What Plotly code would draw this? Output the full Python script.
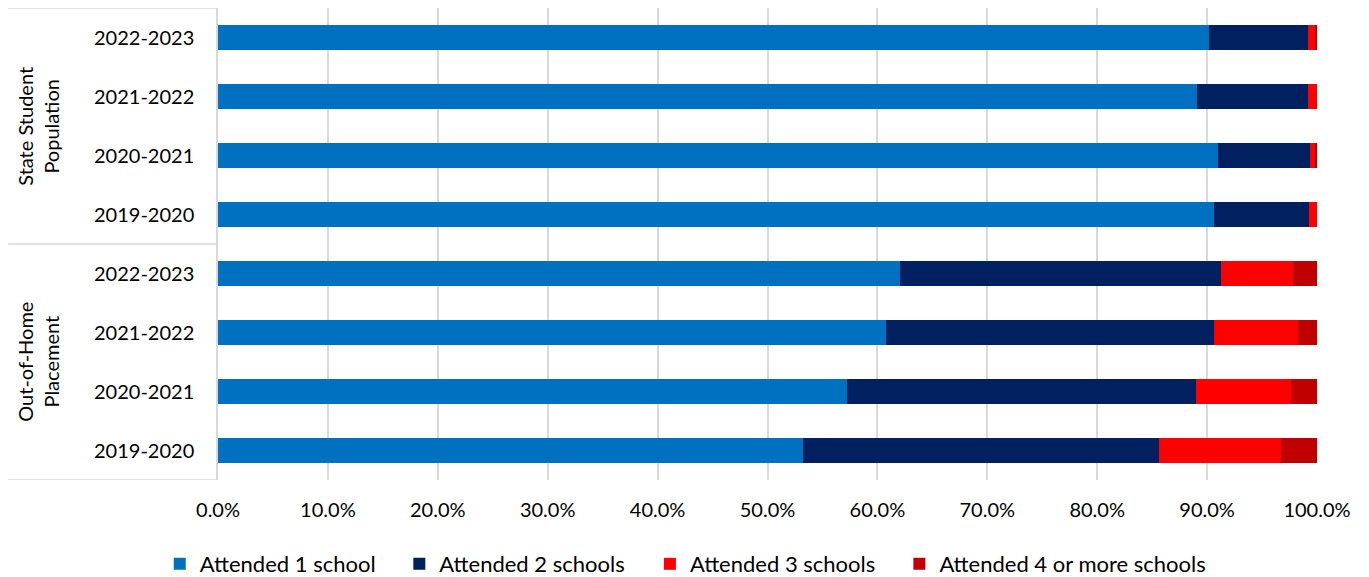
import plotly.graph_objects as go

# Rows from bottom to top
years = ["2019-2020", "2020-2021", "2021-2022", "2022-2023",
         "2019-2020", "2020-2021", "2021-2022", "2022-2023"]
groups = ["Out-of-Home<br>Placement", "State Student<br>Population"]

series_names = ["Attended 1 school", "Attended 2 schools", "Attended 3 schools", "Attended 4 or more schools"]
one_school = [53.2, 57.2, 60.8, 62.1, 90.6, 91.0, 89.1, 90.2]
two_schools = [32.4, 31.8, 29.8, 29.2, 8.7, 8.4, 10.1, 9.0]
three_schools = [11.1, 8.6, 7.7, 6.5, 0.7, 0.5, 0.8, 0.7]
four_plus = [3.3, 2.4, 1.7, 2.2, 0.0, 0.1, 0.0, 0.1]
colors = ["#0070C0", "#002060", "#FF0000", "#C00000"]

x_ticks = [0, 10, 20, 30, 40, 50, 60, 70, 80, 90, 100]
x_ticktext = [f"{v:.1f}%" for v in x_ticks]

legend_ids = ["legend", "legend2", "legend3", "legend4"]
legend_x = [-0.053, 0.165, 0.393, 0.620]

pos = list(range(len(years)))
fig = go.Figure()
for name, vals, col, lid in zip(series_names, [one_school, two_schools, three_schools, four_plus],
                                colors, legend_ids):
    fig.add_trace(go.Bar(y=pos, x=vals, name=name, orientation="h", legend=lid,
                         marker=dict(color=col, line=dict(width=0)), width=0.41))

grid = "#D9D9D9"
fig.update_layout(
    barmode="stack",
    width=1355, height=569,
    margin=dict(l=210, r=46, t=0, b=97, autoexpand=False),
    plot_bgcolor="white", paper_bgcolor="white",
    font=dict(family="Lato, Calibri, sans-serif", size=20, color="#000000"),
    showlegend=True,
    xaxis=dict(range=[0, 100], tickvals=x_ticks, ticktext=x_ticktext, tickangle=0,
               showgrid=True, gridcolor=grid, gridwidth=1.5, zeroline=False,
               showline=False, ticklabelstandoff=16, fixedrange=True, automargin=False),
    yaxis=dict(range=[-0.5, 7.5], tickvals=pos, ticktext=years,
               showgrid=False, zeroline=False, showline=True, linecolor=grid,
               linewidth=1.5, ticklabelstandoff=18, automargin=False),
)
for lid, lx in zip(legend_ids, legend_x):
    fig.update_layout({lid: dict(orientation="h", x=lx, xanchor="left", y=-0.178,
                                 yanchor="middle", font=dict(size=22),
                                 bgcolor="rgba(0,0,0,0)")})

# Group divider lines in the label area
for yv in [-0.5, 3.5, 7.5]:
    fig.add_shape(type="line", xref="paper", yref="y", x0=-0.191, x1=0, y0=yv, y1=yv,
                  line=dict(color=grid, width=1.5))

# Group labels (rotated)
for gi, g in enumerate(groups):
    fig.add_annotation(xref="paper", yref="y", x=-0.164, y=gi * 4 + 1.5, text=g,
                       textangle=-90, showarrow=False, font=dict(size=20),
                       xanchor="center", yanchor="middle")

fig.write_html("out.html")
